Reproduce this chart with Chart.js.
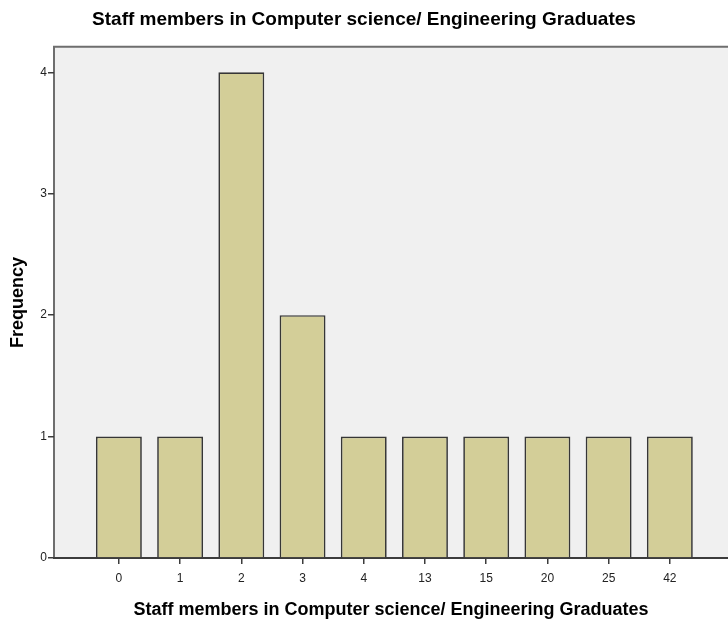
<!DOCTYPE html>
<html>
<head>
<meta charset="utf-8">
<script src="https://cdn.jsdelivr.net/npm/chart.js@4/dist/chart.umd.min.js"></script>
<style>
  html, body { margin: 0; padding: 0; background: #ffffff; }
  #wrap { width: 728px; height: 621px; }
</style>
</head>
<body>
<div id="wrap"><canvas id="c" width="728" height="621"></canvas></div>
<script>
// Staff counts per category (bar order on the x axis)
const categories = ['0', '1', '2', '3', '4', '13', '15', '20', '25', '42'];
const frequency = [1, 1, 4, 2, 1, 1, 1, 1, 1, 1];
const yTicks = [0, 1, 2, 3, 4];

const titleText = 'Staff members in Computer science/ Engineering Graduates';
const FONT = 'Arial, "Liberation Sans", sans-serif';

// Shaded plot area with a frame on the left and top edges
const plotFrame = {
  id: 'plotFrame',
  beforeDraw(chart) {
    const { ctx, chartArea: a } = chart;
    ctx.save();
    ctx.fillStyle = '#f0f0f0';
    ctx.fillRect(a.left, a.top, a.right - a.left, a.bottom - a.top);
    ctx.strokeStyle = '#6e6e6e';
    ctx.lineWidth = 2;
    ctx.beginPath();
    ctx.moveTo(a.left, a.bottom);
    ctx.lineTo(a.left, a.top);
    ctx.lineTo(a.right, a.top);
    ctx.stroke();
    ctx.restore();
  }
};

new Chart(document.getElementById('c'), {
  type: 'bar',
  data: {
    datasets: [{
      data: frequency.map((v, i) => ({ x: i, y: v })),
      backgroundColor: '#d3ce98',
      borderColor: '#363636',
      borderWidth: 1.7,
      categoryPercentage: 1,
      barPercentage: 0.75
    }]
  },
  options: {
    responsive: false,
    animation: false,
    layout: { padding: 0 },
    plugins: {
      legend: { display: false },
      tooltip: { enabled: false },
      title: {
        display: true,
        text: titleText,
        color: '#000000',
        font: { family: FONT, size: 19, weight: 'bold' },
        padding: { top: 8, bottom: 16 }
      }
    },
    scales: {
      x: {
        type: 'linear',
        offset: false,
        min: -1.06,
        max: 9.95,
        afterBuildTicks(axis) {
          axis.ticks = categories.map((_, i) => ({ value: i }));
        },
        afterFit(axis) { axis.height = 63; },
        grid: {
          display: true,
          offset: false,
          drawOnChartArea: false,
          drawTicks: true,
          tickLength: 6,
          color: '#3c3c3c',
          lineWidth: 1.5
        },
        border: { display: true, color: '#3c3c3c', width: 2 },
        ticks: {
          autoSkip: false,
          maxRotation: 0,
          color: '#222222',
          padding: 7,
          font: { family: FONT, size: 12 },
          callback: (v) => categories[v]
        },
        title: {
          display: true,
          text: titleText,
          color: '#000000',
          font: { family: FONT, size: 18, weight: 'bold' },
          padding: { top: 6, bottom: 0 }
        }
      },
      y: {
        min: 0,
        max: 4.21,
        afterBuildTicks(axis) {
          axis.ticks = yTicks.map(v => ({ value: v }));
        },
        afterFit(axis) { axis.width = 54; },
        grid: {
          display: true,
          drawOnChartArea: false,
          drawTicks: true,
          tickLength: 6,
          color: '#3c3c3c',
          lineWidth: 1.5
        },
        border: { display: false },
        ticks: {
          color: '#222222',
          padding: 1,
          font: { family: FONT, size: 12 }
        },
        title: {
          display: true,
          text: 'Frequency',
          color: '#000000',
          font: { family: FONT, size: 18, weight: 'bold' },
          padding: { top: 7, bottom: 2 }
        }
      }
    }
  },
  plugins: [plotFrame]
});
</script>
</body>
</html>
